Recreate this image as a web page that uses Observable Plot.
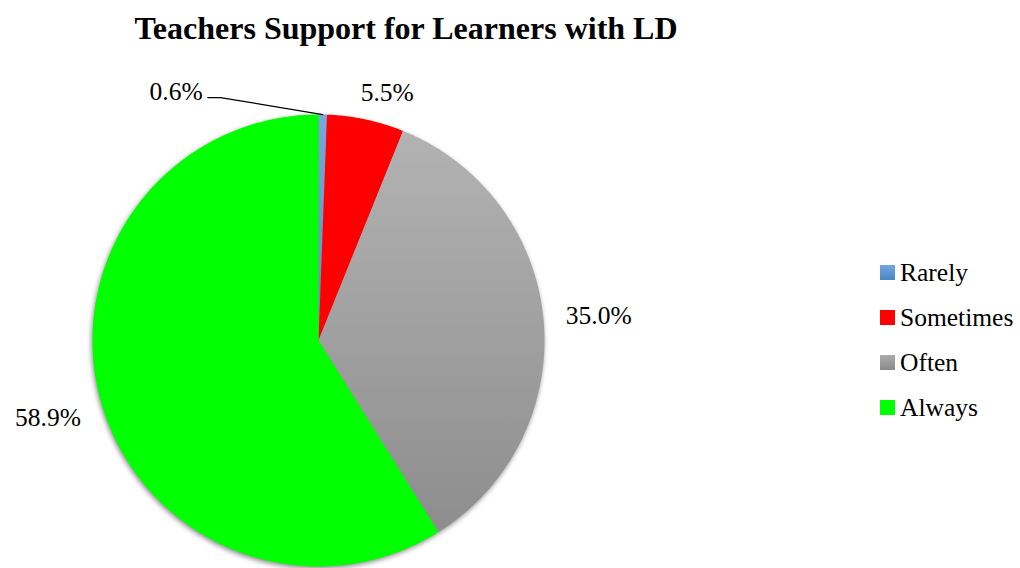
<!DOCTYPE html>
<html><head><meta charset="utf-8">
<script src="https://cdn.jsdelivr.net/npm/d3@7"></script>
<script src="https://cdn.jsdelivr.net/npm/@observablehq/plot@0.6"></script>
<style>
body{margin:0;background:#fff;font-family:"Liberation Serif",serif;}
#wrap{position:relative;width:1020px;height:568px;overflow:hidden;background:#fff;font-family:"Liberation Serif",serif}
#chart{position:absolute;left:0;top:0}
#title{position:absolute;left:0;width:812px;top:11px;text-align:center;font-weight:bold;font-size:32px;line-height:34px;color:#000;font-family:"Liberation Serif",serif}
#legend{position:absolute;left:880px;top:250px}
.row{height:45px;display:flex;align-items:center;font-size:25.5px;color:#000;font-family:"Liberation Serif",serif}
.sw{width:15px;height:15px;margin-right:5px}
svg text{font-family:"Liberation Serif",serif !important}
</style></head>
<body>
<div id="wrap">
  <div id="chart"></div>
  <div id="title">Teachers Support for Learners with LD</div>
  <div id="legend"></div>
</div>
<script>
const categories = ["Rarely", "Sometimes", "Often", "Always"];
const values = [0.6, 5.5, 35.0, 58.9];
const labels = ["0.6%", "5.5%", "35.0%", "58.9%"];
const colors = ["url(#gBlue)", "#ff0000", "url(#gGrey)", "#00ff00"];
const swatchColors = ["linear-gradient(#74a6dc,#4a86c8)", "#ff0000", "linear-gradient(#acacac,#8a8a8a)", "#00ff00"];

const total = d3.sum(values);
const pts = [];
const labelRows = [];
let acc = 0;
categories.forEach((c, i) => {
  const a0 = acc / total * 2 * Math.PI;
  acc += values[i];
  const a1 = acc / total * 2 * Math.PI;
  const n = Math.max(4, Math.ceil((a1 - a0) / (Math.PI / 360)));
  pts.push({key: c, fill: colors[i], x: 0, y: 0});
  for (let k = 0; k <= n; k++) {
    const a = a0 + (a1 - a0) * k / n;
    pts.push({key: c, fill: colors[i], x: Math.sin(a), y: Math.cos(a)});
  }
  pts.push({key: c, fill: colors[i], x: 0, y: 0});
  const am = (a0 + a1) / 2;
  const frac = values[i] / total;
  if (frac < 0.02) {
    labelRows.push({text: labels[i], x: -0.63, y: 1.1, small: true, ex: Math.sin(am), ey: Math.cos(am)});
  } else {
    const r = frac < 0.1 ? 1.12 : 1.245;
    labelRows.push({text: labels[i], x: Math.sin(am) * r + (frac < 0.1 ? 0.07 : 0), y: Math.cos(am) * r, small: false});
  }
});

const leader = [];
labelRows.filter(d => d.small).forEach(d => {
  leader.push({x: d.x + 0.14, y: d.y - 0.025});
  leader.push({x: d.x + 0.196, y: d.y - 0.025});
  leader.push({x: d.ex, y: d.ey});
});

const plot = Plot.plot({
  width: 1020, height: 568,
  margin: 0,
  style: {fontFamily: "Liberation Serif", background: "transparent"},
  x: {domain: [-1, 1], range: [92, 544], axis: null},
  y: {domain: [-1, 1], range: [566, 114], axis: null},
  color: {type: "identity"},
  marks: [
    Plot.line(pts, {x: "x", y: "y", z: "key", fill: "fill", stroke: "none", curve: "linear"}),
    Plot.line(leader, {x: "x", y: "y", stroke: "#000", strokeWidth: 1.2}),
    Plot.text(labelRows, {x: "x", y: "y", text: "text", fontSize: 25.5, fontFamily: "Liberation Serif", fill: "#000", textAnchor: "middle"})
  ]
});
document.getElementById("chart").appendChild(plot);

const svg = d3.select(plot);
const defs = svg.insert("defs", ":first-child");
const g1 = defs.append("linearGradient").attr("id", "gGrey").attr("gradientUnits", "userSpaceOnUse")
  .attr("x1", 0).attr("x2", 0).attr("y1", 114).attr("y2", 566);
g1.append("stop").attr("offset", "0%").attr("stop-color", "#b4b4b4");
g1.append("stop").attr("offset", "100%").attr("stop-color", "#8a8a8a");
const g2 = defs.append("linearGradient").attr("id", "gBlue").attr("gradientUnits", "userSpaceOnUse")
  .attr("x1", 0).attr("x2", 0).attr("y1", 114).attr("y2", 340);
g2.append("stop").attr("offset", "0%").attr("stop-color", "#7aa6d8");
g2.append("stop").attr("offset", "100%").attr("stop-color", "#5b8fcc");
svg.select("g[aria-label=line]").style("filter", "drop-shadow(-1px 2px 2.5px rgba(0,0,0,0.45))");

const leg = d3.select("#legend");
categories.forEach((c, i) => {
  const row = leg.append("div").attr("class", "row");
  row.append("div").attr("class", "sw").style("background", swatchColors[i]);
  row.append("span").text(c);
});
</script>
</body></html>
